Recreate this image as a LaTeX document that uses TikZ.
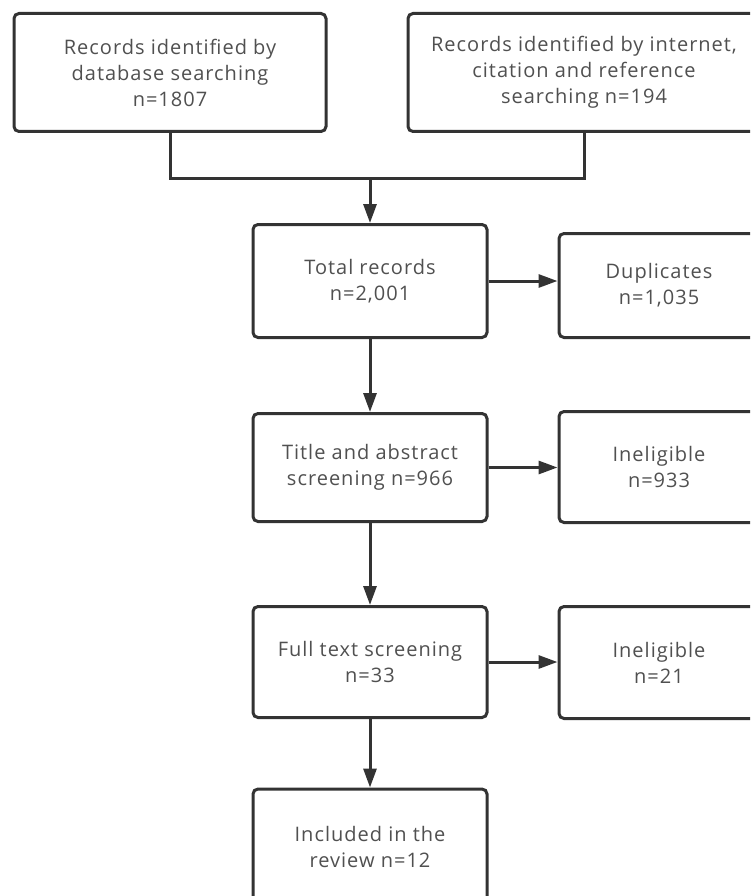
\documentclass[tikz,border=0pt]{standalone}
\usepackage{fontspec}
\setmainfont{Open Sans}[LetterSpace=5]
\usetikzlibrary{arrows.meta}
\definecolor{linec}{HTML}{333333}
\definecolor{textc}{HTML}{505050}
\begin{document}
\begin{tikzpicture}[x=1pt,y=-1pt,
  box/.style={draw=linec, line width=3pt, rounded corners=5pt, fill=white, text=textc, align=center, font=\fontsize{20}{26}\selectfont, inner sep=0pt},
  conn/.style={draw=linec, line width=3pt},
  arr/.style={conn, -{Triangle[length=19pt,width=13pt]}}]
\clip (0,0) rectangle (750,896);
\fill[white] (0,0) rectangle (750,896);
\node[box, minimum width=312pt, minimum height=118pt] (a) at (170,72.5) {Records identified by\\database searching\\n=1807};
\node[box, minimum width=352pt, minimum height=118pt] (b) at (584,72.5) {Records identified by internet,\\citation and reference\\searching n=194};
\node[box, minimum width=234pt, minimum height=113pt] (c) at (370,281) {Total records\\n=2,001};
\node[box, minimum width=200pt, minimum height=104pt] (d) at (659,285.5) {Duplicates\\n=1,035};
\node[box, minimum width=234pt, minimum height=108pt] (e) at (370,467.5) {Title and abstract\\screening n=966};
\node[box, minimum width=200pt, minimum height=111pt] (f) at (659,467) {Ineligible\\n=933};
\node[box, minimum width=234pt, minimum height=111pt] (g) at (370,662) {Full text screening\\n=33};
\node[box, minimum width=200pt, minimum height=112pt] (h) at (659,662.5) {Ineligible\\n=21};
\node[box, minimum width=234pt, minimum height=116pt] (i) at (370,847) {Included in the\\review n=12};
\coordinate (m) at (370,179);
\draw[conn] (a.south) |- (m) -| (b.south);
\draw[arr] (m) -- (c.north);
\draw[arr] (c.east) -- (c.east -| d.west);
\draw[arr] (c.south) -- (e.north);
\draw[arr] (e.east) -- (e.east -| f.west);
\draw[arr] (e.south) -- (g.north);
\draw[arr] (g.east) -- (g.east -| h.west);
\draw[arr] (g.south) -- (i.north);
\end{tikzpicture}
\end{document}
